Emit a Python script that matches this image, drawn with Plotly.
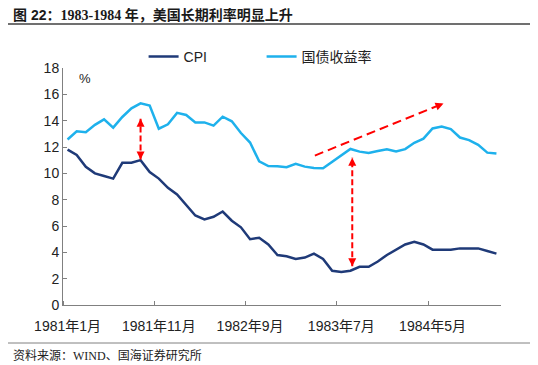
import plotly.graph_objects as go

# ---- data ----
months = [f"{y}年{m}月" for y in (1981, 1982, 1983, 1984) for m in range(1, 13)]
cpi = [11.8, 11.4, 10.5, 10.0, 9.8, 9.6, 10.8, 10.8, 11.0, 10.1, 9.6, 8.9,
       8.4, 7.6, 6.8, 6.5, 6.7, 7.1, 6.4, 5.9, 5.0, 5.1, 4.6, 3.8,
       3.7, 3.5, 3.6, 3.9, 3.5, 2.6, 2.5, 2.6, 2.9, 2.9, 3.3, 3.8,
       4.2, 4.6, 4.8, 4.6, 4.2, 4.2, 4.2, 4.3, 4.3, 4.3, 4.1, 3.9]
bond = [12.57, 13.19, 13.12, 13.68, 14.10, 13.47, 14.28, 14.94, 15.32, 15.15, 13.39, 13.72,
        14.59, 14.43, 13.86, 13.87, 13.62, 14.30, 13.95, 13.06, 12.34, 10.91, 10.55, 10.54,
        10.46, 10.72, 10.51, 10.40, 10.38, 10.85, 11.38, 11.85, 11.65, 11.54, 11.69, 11.83,
        11.67, 11.84, 12.32, 12.63, 13.41, 13.56, 13.36, 12.72, 12.52, 12.16, 11.57, 11.50]
tick_idx = [0, 10, 20, 30, 40]
tick_text = [months[i] for i in tick_idx]
y_ticks = list(range(0, 19, 2))

# annotation arrows (data coordinates): (x0, y0, x1, y1)
arrow_v1 = (8, 11.05, 8, 14.15)
arrow_v2 = (31.2, 2.94, 31.2, 11.18)
arrow_diag = (27.1, 11.35, 41.2, 15.31)

x = list(range(len(months)))
FONT = "Arial, 'Liberation Sans', 'Noto Sans CJK SC', sans-serif"
SERIF = "'Liberation Serif', 'Noto Sans CJK SC', serif"
RED = "#FF0000"

# the page body adds an 8px margin, so the figure is sized to fill the rest
W, H = 530, 357
ML, MR, MT, MB = 55, 37, 60, 60
PW, PH = W - ML - MR, H - MT - MB


def px(xv):  # viewport x pixel -> paper x
    return (xv - 8 - ML) / PW


def py(yv):  # viewport y pixel -> paper y
    return (H - MB - (yv - 8)) / PH


fig = go.Figure()
fig.add_trace(go.Scatter(x=x, y=cpi, mode="lines", name="CPI",
                         line=dict(color="#1F3A78", width=2.5)))
fig.add_trace(go.Scatter(x=x, y=bond, mode="lines", name="国债收益率",
                         line=dict(color="#1EB1EC", width=2.5)))

shapes = []
annos = []


def dashed(x0, y0, x1, y1, dash):
    shapes.append(dict(type="line", xref="x", yref="y", x0=x0, y0=y0, x1=x1, y1=y1,
                       line=dict(color=RED, width=2, dash=dash)))


def head(xt, yt, ax, ay):
    annos.append(dict(x=xt, y=yt, xref="x", yref="y", ax=ax, ay=ay, text="",
                      showarrow=True, arrowhead=2, arrowsize=1, arrowwidth=1.6,
                      arrowcolor=RED))


dashed(*arrow_v1, "6px,3px")
head(arrow_v1[0], arrow_v1[3], 0, 8)
head(arrow_v1[0], arrow_v1[1], 0, -8)
dashed(*arrow_v2, "6px,3px")
head(arrow_v2[0], arrow_v2[3], 0, 8)
head(arrow_v2[0], arrow_v2[1], 0, -8)
dashed(*arrow_diag, "9px,5px")
head(arrow_diag[2], arrow_diag[3], -7.4, 3.0)

# frame lines (title rule and footer rule)
shapes.append(dict(type="line", xref="paper", yref="paper", x0=px(3), x1=px(535),
                   y0=py(24), y1=py(24), line=dict(color="#404040", width=1.5)))
shapes.append(dict(type="line", xref="paper", yref="paper", x0=px(3), x1=px(535),
                   y0=py(343), y1=py(343), line=dict(color="#808080", width=1)))

annos.append(dict(xref="paper", yref="paper", x=px(11), y=py(15.5), xanchor="left",
                  yanchor="middle", showarrow=False,
                  text=("<b><span style='font-family:Arial, Noto Sans CJK SC'>图 22</span>："
                        "1983-1984 年，美国长期利率明显上升</b>"),
                  font=dict(size=14, color="#1a1a1a", family=SERIF)))
annos.append(dict(xref="paper", yref="paper", x=px(11), y=py(355), xanchor="left",
                  yanchor="middle", showarrow=False,
                  text="资料来源：WIND、国海证券研究所",
                  font=dict(size=12, color="#222222", family=SERIF)))
annos.append(dict(xref="paper", yref="paper", x=px(85), y=py(78), xanchor="center",
                  yanchor="middle", showarrow=False, text="%",
                  font=dict(size=13, color="#222222", family=FONT)))

fig.update_layout(
    width=W, height=H,
    margin=dict(l=ML, r=MR, t=MT, b=MB, pad=0, autoexpand=False),
    paper_bgcolor="white", plot_bgcolor="white",
    font=dict(family=FONT, size=13, color="#222222"),
    showlegend=True,
    legend=dict(orientation="h", x=0.184, y=py(57), xanchor="left", yanchor="middle",
                font=dict(size=14, color="#222222"), entrywidth=73,
                bgcolor="rgba(0,0,0,0)"),
    shapes=shapes, annotations=annos,
    xaxis=dict(range=[-0.5, 47.5], tickmode="array", tickvals=tick_idx,
               ticktext=tick_text, ticks="", showgrid=False, zeroline=False,
               showline=True, linecolor="#808080", linewidth=1,
               tickfont=dict(size=14), ticklabelstandoff=8, automargin=False,
               minor=dict(tickmode="linear", tick0=-0.5, dtick=10, ticks="inside",
                          ticklen=4, tickcolor="#808080", showgrid=False)),
    yaxis=dict(range=[0, 18], tickmode="array", tickvals=y_ticks, ticks="inside",
               ticklen=4, tickcolor="#808080", showgrid=False, zeroline=False,
               showline=True, linecolor="#808080", linewidth=1,
               tickfont=dict(size=14), automargin=False),
)

fig.write_html("out.html")
